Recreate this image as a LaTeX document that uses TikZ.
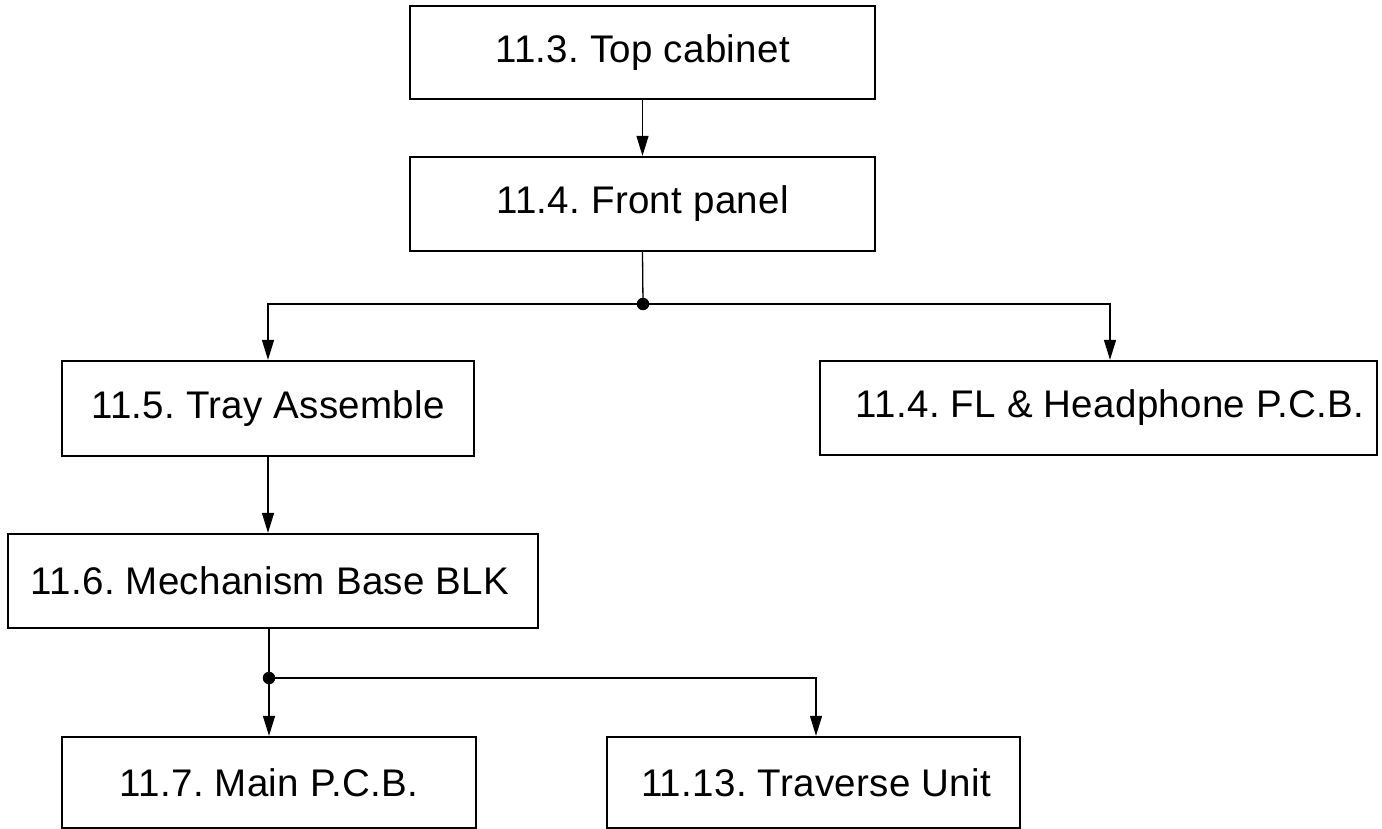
\documentclass[tikz,border=0pt]{standalone}
\usepackage{fontspec}
\setmainfont{Liberation Sans}[LetterSpace=0.8]
\usetikzlibrary{arrows.meta}
\begin{document}
\frenchspacing
\begin{tikzpicture}[x=1pt,y=-1pt,
  box/.style={draw, line width=2.3pt, rectangle, inner sep=0pt, font=\fontsize{38.5}{45}\selectfont},
  conn/.style={line width=1.3pt},
  arr/.style={conn, -{Triangle[length=20pt,width=12pt]}},
  jdot/.style={circle, fill=black, inner sep=0pt, minimum size=12.5pt}]
\useasboundingbox (0,0) rectangle (1382,829);
\node[box, minimum width=465pt, minimum height=93pt] (top) at (642.5,52.5) {11.3. Top cabinet};
\node[box, minimum width=465pt, minimum height=94pt] (front) at (642.5,204) {11.4. Front panel};
\node[box, minimum width=412pt, minimum height=95pt] (tray) at (268,408.5) {11.5. Tray Assemble};
\node[box, minimum width=557pt, minimum height=94pt] (fl) at (1098.5,408) {\hspace*{23pt}11.4. FL \& Headphone P.C.B.};
\node[box, minimum width=530pt, minimum height=94pt] (mech) at (273,581) {\hspace*{-6pt}11.6. Mechanism Base BLK};
\node[box, minimum width=414pt, minimum height=91pt] (main) at (269,782.5) {11.7. Main P.C.B.};
\node[box, minimum width=413pt, minimum height=91pt] (trav) at (813.5,782.5) {\hspace*{5pt}11.13. Traverse Unit};
\coordinate (j1) at (643,304);
\coordinate (j2) at (269,678);
\draw[arr] (top.south) -- (front.north);
\draw[conn] (front.south) -- (j1);
\draw[arr] (j1) -| (tray.north);
\draw[arr] (j1) -| ([xshift=11.5pt]fl.north);
\draw[arr] (tray.south) -- (tray.south |- mech.north);
\draw[conn] (j2 |- mech.south) -- (j2);
\draw[arr] (j2) -- (j2 |- main.north);
\draw[arr] (j2) -| ([xshift=2.5pt]trav.north);
\node[jdot] (d1) at (j1) {};
\node[jdot] (d2) at (j2) {};
\end{tikzpicture}
\end{document}
